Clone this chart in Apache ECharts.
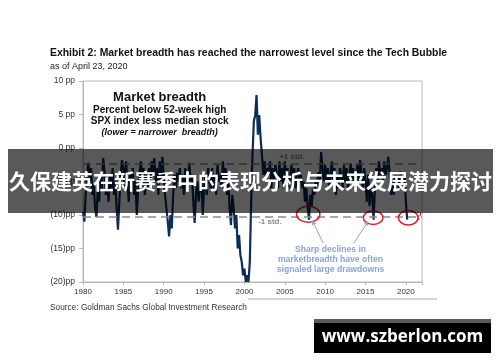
<!DOCTYPE html>
<html><head><meta charset="utf-8">
<script src="https://cdn.jsdelivr.net/npm/echarts@6/dist/echarts.min.js"></script>
<style>html,body{margin:0;padding:0;background:#fff}#c{width:500px;height:362px}</style>
</head><body><div id="c"></div>
<script>
// Market breadth (pp), bimonthly readings starting Jan 1980
const startYear = 1980;
const pointsPerYear = 6;
const breadth1980s = [
  -9.5, -11, -7, -4, -2.2, -5,
  -3, -7, -5.5, -9, -10.3, -6,
  -8, -4, -6, -1.5, -3.5, -7,
  -5, -8, -4, -6, -3, -7,
  -5, -9, -12.2, -8, -4, -1.8,
  -3, -6, -2, -5, -8, -4,
  -6, -3, -7, -5, -10, -6,
  -4, -2, -5, -3, -7, -4,
  -6, -3, -5, -2, -4, -1.5,
  -5, -3, -7, -2, -5, -1.3
];
const breadth1990s = [
  -4, -7, -9, -11, -13.2, -10,
  -12, -7, -4, -6, -3.7, -5,
  -3, -6, -4, -7, -3, -5,
  -6, -2.2, -5, -4, -8, -11.2,
  -7, -5, -8, -6, -4, -10,
  -6, -4, -7, -3, -5, -6,
  -3, -6, -4, -7, -2.5, -5,
  -4, -6, -2, -5, -3, -7,
  -5, -9, -11.5, -7, -9, -12,
  -10, -15, -13, -16, -17, -19
];
const breadth2000s = [
  -18, -20, -19, -20, -17, -8,
  -1, 4, 4.9, 7.9, 2, 4.9,
  1.5, -1, -4, -2, -5, -3,
  -4, -2, -6, -3, -5, -2.5,
  -4, -6, -2, -5, -3, -6,
  -2, -5, -3, -6, -4, -2.5,
  -5, -3, -6, -4, -3, -5,
  -4, -6, -5, -8, -6, -8.7,
  -10.7, -7, -8.7, -6, -7, -5,
  -5.6, -3.6, -5, -0.6, -3, -5
];
const breadth2010s = [
  -2.5, -5, -3, -6, -4, -2,
  -5, -3, -7, -4, -6, -3,
  -4, -6, -2.5, -5, -3, -6,
  -4, -2.3, -5, -3, -6, -4,
  -2.5, -5, -1.8, -4, -6, -3,
  -5, -8, -4, -8.7, -6, -7,
  -10.7, -6, -3, -5, -2, -4,
  -3, -5, -2, -4, -3, -1.3,
  -4, -7, -5, -7, -4, -6,
  -4, -6, -3.5, -5, -6, -4
];
const breadth2020 = [-8, -10.7];

const stdLevels = [-2.4, -10.2];           // +1 std, -1 std
const highlightYears = [2007.9, 2015.95, 2020.3];
const highlightValues = [-9.9, -10.4, -10.4];

const titleText = 'Exhibit 2: Market breadth has reached the narrowest level since the Tech Bubble';
const subtitleText = 'as of April 23, 2020';
const sourceText = 'Source: Goldman Sachs Global Investment Research';
const boxLines = ['Market breadth', 'Percent below 52-week high', 'SPX index less median stock', '(lower = narrower  breadth)'];
const noteLines = ['Sharp declines in', 'marketbreadth have often', 'signaled large drawdowns'];
const bannerText = '久保建英在新赛季中的表现分析与未来发展潜力探讨';
const watermarkText = 'www.szberlon.com';

const values = [].concat(breadth1980s, breadth1990s, breadth2000s, breadth2010s, breadth2020);
const seriesData = values.map((v, i) => [startYear + i / pointsPerYear, v]);

const FONT = "'Liberation Sans', Arial, sans-serif";
const chart = echarts.init(document.getElementById('c'));
const fmtY = v => v > 0 ? v + ' pp' : (v === 0 ? '0 pp' : '(' + (-v) + ')pp');

chart.setOption({
  animation: false,
  grid: {left: 83, top: 81, right: 78, bottom: 80, show: true, borderColor: '#b8b8b8', borderWidth: 1},
  xAxis: [
    {type: 'value', min: 1980, max: 2022, interval: 5,
     axisLine: {show: false}, axisTick: {show: false}, splitLine: {show: false},
     axisLabel: {color: '#333', fontSize: 8, fontFamily: FONT, margin: 6, formatter: v => String(v)}},
    {type: 'value', min: 1980, max: 2022, interval: 5, position: 'bottom',
     axisLine: {show: true, onZero: true, lineStyle: {color: '#b8b8b8'}},
     axisTick: {show: true, length: 3, lineStyle: {color: '#b8b8b8'}},
     axisLabel: {show: false}, splitLine: {show: false}}
  ],
  yAxis: {type: 'value', min: -20, max: 10, interval: 5,
    axisLine: {show: true, lineStyle: {color: '#b8b8b8'}},
    axisTick: {show: true, length: 4, lineStyle: {color: '#b8b8b8'}},
    splitLine: {show: false},
    axisLabel: {color: '#333', fontSize: 8.5, fontFamily: FONT, margin: 8, formatter: fmtY}},
  series: [{
    type: 'line', xAxisIndex: 0, data: seriesData, showSymbol: false,
    lineStyle: {color: '#0b2d57', width: 2.2},
    markLine: {silent: true, symbol: 'none', label: {show: false},
      lineStyle: {type: [8, 5], color: '#8a8a8a', width: 1.5},
      data: stdLevels.map(v => ({yAxis: v}))}
  }]
});

const px = (x, y) => chart.convertToPixel({xAxisIndex: 0, yAxisIndex: 0}, [x, y]);
const txt = (text, x, y, font, fill, align, z) => ({
  type: 'text', x: x, y: y, z: z || 10,
  style: {text: text, font: font, fill: fill, align: align || 'left', verticalAlign: 'middle',
          textAlign: align || 'left', textVerticalAlign: 'middle'}
});

const g = [];
g.push(txt(titleText, 50, 53, 'bold 10.4px ' + FONT, '#111'));
g.push(txt(subtitleText, 50, 66.5, '9px ' + FONT, '#222'));
const midX = px(1989.5, 0)[0];
g.push(txt(boxLines[0], midX, 97, 'bold 13px ' + FONT, '#111', 'center'));
g.push(txt(boxLines[1], midX, 110, 'bold 10px ' + FONT, '#111', 'center'));
g.push(txt(boxLines[2], midX, 121, 'bold 10px ' + FONT, '#111', 'center'));
g.push(txt(boxLines[3], midX, 132.5, 'italic bold 9px ' + FONT, '#111', 'center'));

const pPlus = px(2004.3, stdLevels[0]);
g.push(txt('+1 std.', pPlus[0], pPlus[1] - 7, 'bold 8px ' + FONT, '#888'));
const pMinus = px(2001.7, stdLevels[1]);
g.push(txt('-1 std.', pMinus[0], pMinus[1] + 5, 'bold 8px ' + FONT, '#888'));

const rxs = [11.7, 9.8, 9.8], rys = [8, 6.8, 7.2];
highlightYears.forEach((yr, i) => {
  const p = px(yr, highlightValues[i]);
  g.push({type: 'ellipse', z: 11, shape: {cx: p[0], cy: p[1], rx: rxs[i], ry: rys[i]},
          style: {fill: 'none', stroke: '#d8232a', lineWidth: 1.5}});
});
const pq = px(2021.6, -10.3);
g.push(txt('?', pq[0], pq[1], '13px "Liberation Serif", serif', '#d8232a', 'center'));

const noteX = 330.5;
g.push(txt(noteLines[0], noteX, 250, 'bold 8.6px ' + FONT, '#8aa4d4', 'center'));
g.push(txt(noteLines[1], noteX, 259.5, 'bold 8.6px ' + FONT, '#8aa4d4', 'center'));
g.push(txt(noteLines[2], noteX, 269.5, 'bold 8.6px ' + FONT, '#8aa4d4', 'center'));

// arrows from note to circles
const a1 = px(highlightYears[0] + 0.5, highlightValues[0] - 0.9);
const a2 = px(highlightYears[1] - 0.6, highlightValues[1] - 0.5);
const arrow = (x0, y0, x1, y1) => {
  const ang = Math.atan2(y1 - y0, x1 - x0), L = 4.5, W = 2.2;
  const bx = x1 - L * Math.cos(ang), by = y1 - L * Math.sin(ang);
  g.push({type: 'line', z: 11, shape: {x1: x0, y1: y0, x2: bx, y2: by}, style: {stroke: '#8aa4d4', lineWidth: 1}});
  g.push({type: 'polygon', z: 11, shape: {points: [[x1, y1],
    [bx + W * Math.sin(ang), by - W * Math.cos(ang)], [bx - W * Math.sin(ang), by + W * Math.cos(ang)]]},
    style: {fill: '#8aa4d4'}});
};
arrow(323, 243, a1[0], a1[1]);
arrow(354, 243, a2[0], a2[1]);

g.push(txt(sourceText, 50, 308, '8.3px ' + FONT, '#333'));
g.push({type: 'line', z: 5, shape: {x1: 248, y1: 299, x2: 437, y2: 299}, style: {stroke: '#aaa', lineWidth: 1}});

// overlay banner
g.push({type: 'rect', z: 100, shape: {x: 8, y: 149, width: 485, height: 64}, style: {fill: 'rgba(0,0,0,0.65)'}});
g.push(txt(bannerText, 9, 181, 'bold 21px "Noto Sans CJK SC", sans-serif', '#fff', 'left', 101));

// watermark
g.push({type: 'rect', z: 100, shape: {x: 314, y: 319, width: 177, height: 34}, style: {fill: '#000'}});
g.push({type: 'rect', z: 100, shape: {x: 314, y: 319, width: 177, height: 4}, style: {fill: '#5a5a5a'}});
g.push(txt(watermarkText, 402.5, 337, 'bold 17px "Open Sans", sans-serif', '#fff', 'center', 101));

chart.setOption({graphic: {elements: g}});
</script></body></html>
